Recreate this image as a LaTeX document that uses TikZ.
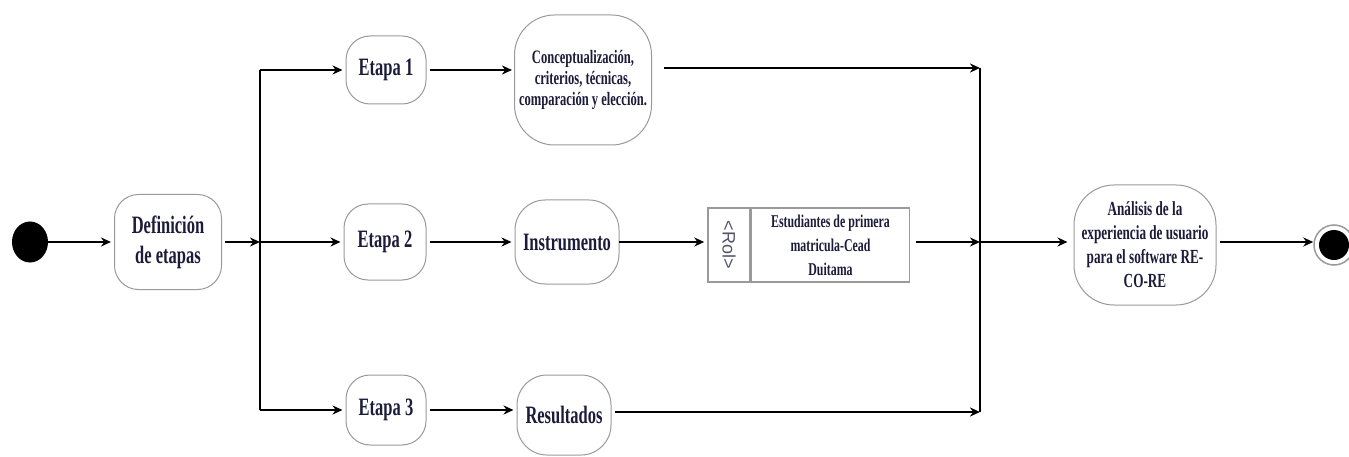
\documentclass[tikz,border=0pt]{standalone}
\usepackage{fontspec}
\setmainfont{Liberation Serif}[FakeStretch=0.66]
\newfontfamily\rolfont{Liberation Sans}
\usepackage{tikz}
\usetikzlibrary{arrows.meta, positioning, calc, shapes.geometric}
\definecolor{ink}{HTML}{1b1b3a}
\definecolor{edge}{HTML}{9a9a9a}
\tikzset{
  estado/.style={draw=edge, line width=1pt, fill=white, rounded corners=24pt,
    align=center, text=ink, font=\bfseries\fontsize{25}{30}\selectfont, inner sep=2pt},
  flecha/.style={line width=2.2pt, -{Stealth[length=10pt, width=9pt]}},
  barra/.style={line width=2.2pt}
}
\begin{document}
\begin{tikzpicture}[x=1pt, y=-1pt]
    \useasboundingbox (0,0) rectangle (1349,457);

    % inicio y fin
    \node[ellipse, fill=black, minimum width=36, minimum height=41, inner sep=0] (inicio) at (30,242) {};
    \node[circle, draw=edge, line width=1.5pt, fill=white, minimum size=40, inner sep=0] (fin) at (1334,245) {};
    \node[circle, fill=black, minimum size=30, inner sep=0] (finIn) at (fin) {};

    % estados
    \node[estado, minimum width=107, minimum height=95] (def) at (168,242) {Definici\'on\\de etapas};
    \node[estado, minimum width=80, minimum height=68] (etapa1) at (386,70) {Etapa 1};
    \node[estado, minimum width=82, minimum height=76] (etapa2) at (385,242) {Etapa 2};
    \node[estado, minimum width=80, minimum height=70] (etapa3) at (386,410) {Etapa 3};
    \node[estado, minimum width=137, minimum height=130, rounded corners=40pt,
      font=\bfseries\fontsize{19}{21}\selectfont] (concepto) at (583,80)
      {Conceptualizaci\'on,\\criterios, t\'ecnicas,\\comparaci\'on y elecci\'on.};
    \node[estado, minimum width=104, minimum height=84, rounded corners=30pt] (instrumento) at (567,242) {Instrumento};
    \node[estado, minimum width=94, minimum height=80, rounded corners=30pt] (resultados) at (564,415) {Resultados};
    \node[estado, minimum width=142, minimum height=120, rounded corners=40pt,
      font=\bfseries\fontsize{20}{24}\selectfont] (analisis) at (1145,245)
      {An\'alisis de la\\experiencia de usuario\\para el software RE-\\CO-RE};

    % rol
    \node[draw=edge, line width=1.5pt, minimum width=42, minimum height=74, inner sep=0] (rolL) at (729,245) {};
    \node[rotate=-90, text=ink!75, font=\rolfont\fontsize{18}{18}\selectfont] (rolTxt) at (rolL) {<Rol>};
    \node[draw=edge, line width=1.5pt, minimum width=158, minimum height=74, inner sep=0, anchor=west,
      align=center, text=ink, font=\bfseries\fontsize{18}{24}\selectfont] (rolR) at (rolL.east)
      {Estudiantes de primera\\matricula-Cead\\Duitama};

    % bifurcacion y union
    \coordinate (b1) at (260,70);
    \coordinate (b2) at (260,242);
    \coordinate (b3) at (260,410);
    \coordinate (u1) at (980,68);
    \coordinate (u2) at (980,242);
    \coordinate (u3) at (980,412);
    \draw[barra] (b1) -- (b3);
    \draw[barra] (u1) -- (u3);

    \draw[flecha] (inicio) -- ([xshift=-3pt]def.west);
    \draw[flecha, shorten <=3pt] (def.east) -- (b2);
    \foreach \i in {1,2,3} {
      \draw[flecha] (b\i) -- ([xshift=-3pt]etapa\i.west);
    }
    \draw[flecha, shorten <=3pt] (etapa1.east) -- ([xshift=-2pt]concepto.west |- etapa1);
    \draw[flecha, shorten <=3pt] (etapa2.east) -- ([xshift=-3pt]instrumento.west);
    \draw[flecha, shorten <=3pt] (etapa3.east) -- ([xshift=-3pt]resultados.west |- etapa3);
    \draw[flecha] ([xshift=12pt]concepto.east |- u1) -- (u1);
    \draw[flecha, shorten <=2pt] ([xshift=-3pt]instrumento.east) -- ([xshift=-3pt]rolL.west |- instrumento);
    \draw[flecha] ([xshift=6pt]rolR.east |- u2) -- (u2);
    \draw[flecha] ([xshift=3pt]resultados.east |- u3) -- (u3);
    \draw[flecha] (u2) -- ([xshift=-6pt]analisis.west |- u2);
    \draw[flecha, shorten <=3pt] (analisis.east |- u2) -- (fin.west |- u2);
\end{tikzpicture}
\end{document}
